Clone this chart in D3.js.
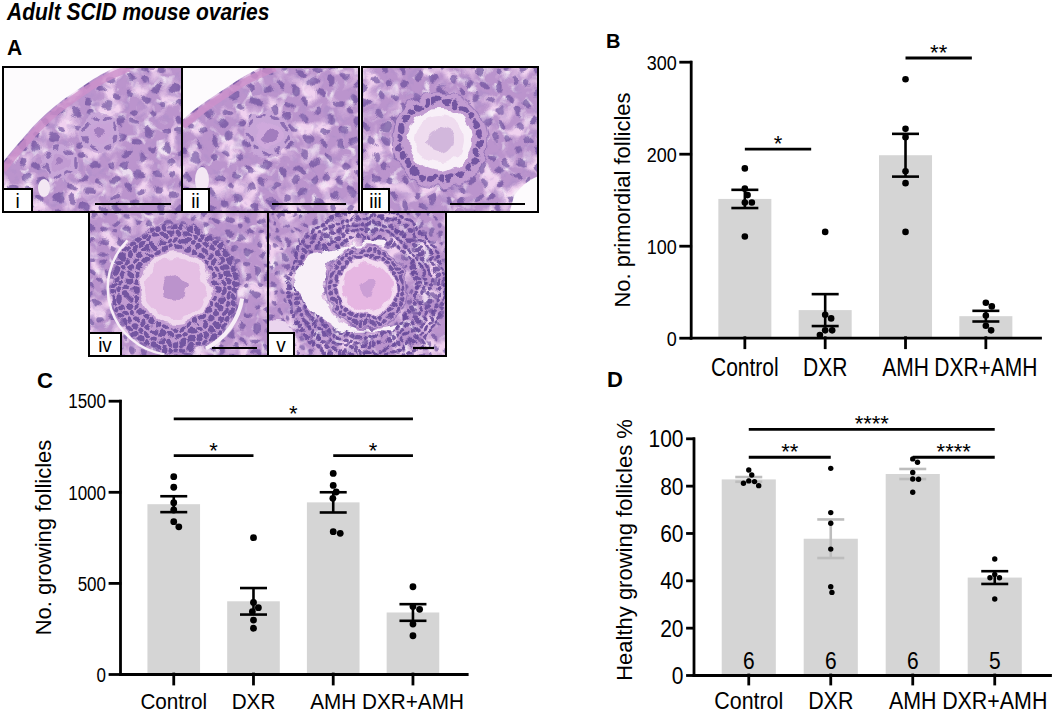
<!DOCTYPE html>
<html>
<head>
<meta charset="utf-8">
<script src="https://cdn.jsdelivr.net/npm/d3@7"></script>
<style>
  body { margin: 0; background: #fff; }
  svg { display: block; font-family: "Liberation Sans", Arial, sans-serif; }
</style>
</head>
<body>
<svg id="fig" width="1052" height="715"></svg>
<script>
// ---------------- data ----------------
var groups = ["Control", "DXR", "AMH", "DXR+AMH"];

// B: number of primordial follicles, one value per ovary
var primordialPts = [
  [184, 162, 155, 147, 147, 110],
  [115, 25, 21, 8, 8, 3],
  [281, 227, 218, 181, 168, 115],
  [38, 34, 24, 13, 8]
];
var primordialTicks = [0, 100, 200, 300];
// [from group, to group, bracket level, label]
var primordialSig = [[0, 1, 205, "*"], [2, 3, 304, "**"]];

// C: number of growing follicles
var growingPts = [
  [1083, 1025, 940, 900, 836, 808],
  [748, 393, 364, 342, 296, 251],
  [1101, 1035, 999, 964, 781, 772],
  [479, 370, 355, 274, 210]
];
var growingTicks = [0, 500, 1000, 1500];
var growingSig = [[0, 3, 1400, "*"], [0, 1, 1198, "*"], [2, 3, 1198, "*"]];

// D: healthy growing follicles %
var healthyPts = [
  [86.6, 84.5, 82, 81.7, 81, 80],
  [87.3, 68.6, 64.1, 53.2, 37.3, 34.9],
  [91.3, 89.9, 85.6, 82.8, 82.7, 77.2],
  [49, 42.5, 41.1, 41.1, 32.1]
];
var healthyTicks = [0, 20, 40, 60, 80, 100];
var healthySig = [[0, 3, 103.8, "****"], [0, 1, 92, "**"], [2, 3, 92, "****"]];
var healthyN = ["6", "6", "6", "5"];

var svg = d3.select("#fig");
var defs = svg.append("defs");

// horizontal text, stretched vertically like the original figure
function hText(g, x, y, str, size, sy, anchor) {
  return g.append("text")
    .attr("transform", "translate(" + x + "," + y + ") scale(1," + sy + ")")
    .attr("text-anchor", anchor || "middle")
    .style("font-size", size + "px")
    .text(str);
}

// simple beeswarm: smallest horizontal shift that avoids overlap
function swarm(vals, y, r) {
  var D = 2 * r + 0.4, placed = [];
  vals.slice().sort(function(a, b) { return b - a; }).forEach(function(v) {
    var py = y(v), cands = [0];
    placed.forEach(function(p) {
      var dy = Math.abs(p.y - py);
      if (dy < D) {
        var s = Math.sqrt(D * D - dy * dy);
        cands.push(p.dx + s, p.dx - s);
      }
    });
    cands.sort(function(a, b) { return Math.abs(a) - Math.abs(b); });
    var dx = cands.find(function(c) {
      return placed.every(function(p) {
        return Math.hypot(p.dx - c, p.y - py) >= D - 0.01;
      });
    });
    placed.push({ v: v, y: py, dx: dx });
  });
  return placed;
}

function drawPanel(cfg) {
  var g = svg.append("g");

  var x = d3.scaleBand().domain(groups)
    .range([cfg.x0, cfg.x1]).paddingInner(0.34).paddingOuter(0.344);
  var y = d3.scaleLinear().domain([0, cfg.max]).range([cfg.yBot, cfg.yTop]);
  var bw = x.bandwidth();

  var stats = cfg.points.map(function(p) {
    return { mean: d3.mean(p), sem: d3.deviation(p) / Math.sqrt(p.length) };
  });

  // bars
  g.selectAll("rect.bar").data(groups).join("rect")
    .attr("class", "bar")
    .attr("x", function(d) { return x(d); })
    .attr("width", bw)
    .attr("y", function(d, i) { return y(stats[i].mean); })
    .attr("height", function(d, i) { return y(0) - y(stats[i].mean); })
    .attr("fill", "#d5d5d5");

  // n inside bars
  if (cfg.nLabels) {
    cfg.nLabels.forEach(function(n, i) {
      hText(g, x(groups[i]) + bw / 2, y(0) - 6, n, 21, 1.1);
    });
  }

  // error bars (mean +/- SEM)
  var eb = g.selectAll("g.err").data(groups).join("g").attr("class", "err")
    .attr("stroke", function(d, i) { return cfg.errColors ? cfg.errColors[i] : "#000"; })
    .attr("stroke-width", 2.6);
  eb.append("line")
    .attr("x1", function(d) { return x(d) + bw / 2; })
    .attr("x2", function(d) { return x(d) + bw / 2; })
    .attr("y1", function(d, i) { return y(stats[i].mean - stats[i].sem); })
    .attr("y2", function(d, i) { return y(stats[i].mean + stats[i].sem); });
  [-1, 1].forEach(function(s) {
    eb.append("line")
      .attr("x1", function(d) { return x(d) + bw / 2 - 13.5; })
      .attr("x2", function(d) { return x(d) + bw / 2 + 13.5; })
      .attr("y1", function(d, i) { return y(stats[i].mean + s * stats[i].sem); })
      .attr("y2", function(d, i) { return y(stats[i].mean + s * stats[i].sem); });
  });

  // individual ovaries
  cfg.points.forEach(function(p, i) {
    var cx = x(groups[i]) + bw / 2;
    g.append("g").selectAll("circle").data(swarm(p, y, cfg.r)).join("circle")
      .attr("cx", function(d) { return cx + d.dx; })
      .attr("cy", function(d) { return d.y; })
      .attr("r", cfg.r)
      .attr("fill", "#000");
  });

  // significance brackets
  cfg.sig.forEach(function(s) {
    var xa = x(groups[s[0]]) + bw / 2;
    var xb = x(groups[s[1]]) + bw / 2 - (cfg.trimR || 0);
    g.append("line")
      .attr("x1", xa).attr("x2", xb)
      .attr("y1", y(s[2])).attr("y2", y(s[2]))
      .attr("stroke", "#000").attr("stroke-width", 2.8);
    hText(g, (xa + xb) / 2, y(s[2]) + 2, s[3], 22, 1);
  });

  // axes
  var ya = g.append("g")
    .attr("transform", "translate(" + cfg.x0 + ",0)")
    .call(d3.axisLeft(y).tickValues(cfg.ticks).tickFormat(d3.format("d"))
      .tickSize(cfg.yTick).tickSizeOuter(0).tickPadding(0));
  ya.selectAll(".tick text")
    .attr("x", null).attr("dy", "0.35em")
    .attr("transform", "translate(" + -(cfg.yTick + cfg.yPad) + ",0) scale(1," + cfg.tickSy + ")")
    .style("font-size", cfg.tickSize + "px");

  var xa = g.append("g")
    .attr("transform", "translate(0," + cfg.yBot + ")")
    .call(d3.axisBottom(x).tickSize(cfg.xTick).tickSizeOuter(0).tickPadding(0));
  xa.selectAll(".tick text")
    .attr("y", null).attr("dy", "0.72em")
    .attr("transform", "translate(0," + (cfg.xTick + cfg.xPad) + ") scale(1," + cfg.labelSy + ")")
    .style("font-size", cfg.labelSize + "px");

  [ya, xa].forEach(function(a) {
    a.attr("font-family", null).attr("font-size", null);
    a.selectAll("path, line").attr("stroke", "#000").attr("stroke-width", 2.8)
      .attr("stroke-linecap", "square");
    a.selectAll("text").attr("fill", "#000");
  });

  // axis title
  g.append("text")
    .attr("transform", "translate(" + cfg.titleX + "," + cfg.titleY + ") rotate(-90)")
    .attr("text-anchor", "middle")
    .style("font-size", "22px")
    .text(cfg.title);

  // panel letter
  g.append("text").attr("x", cfg.letter[1]).attr("y", cfg.letter[2])
    .style("font-size", cfg.letter[3] + "px").style("font-weight", "bold")
    .text(cfg.letter[0]);
}

drawPanel({
  points: primordialPts, ticks: primordialTicks, sig: primordialSig, max: 300,
  x0: 690.7, x1: 1040, yTop: 61.7, yBot: 337.7, r: 3.3, trimR: 14,
  yTick: 10, yPad: 4, tickSize: 18, tickSy: 1.16,
  xTick: 10, xPad: 10, labelSize: 21, labelSy: 1.2,
  title: "No. primordial follicles", titleX: 630, titleY: 200,
  letter: ["B", 606, 48, 20]
});

drawPanel({
  points: growingPts, ticks: growingTicks, sig: growingSig, max: 1500,
  x0: 120, x1: 466.7, yTop: 400.7, yBot: 674, r: 3.4,
  yTick: 10, yPad: 4, tickSize: 17, tickSy: 1.22,
  xTick: 10, xPad: 9, labelSize: 20.7, labelSy: 1.08,
  title: "No. growing follicles", titleX: 50.5, titleY: 537.5,
  letter: ["C", 37, 388, 22]
});

drawPanel({
  points: healthyPts, ticks: healthyTicks, sig: healthySig, max: 100,
  x0: 693.5, x1: 1050, yTop: 438.3, yBot: 675, r: 2.7, nLabels: healthyN,
  errColors: ["#bdbdbd", "#bdbdbd", "#bdbdbd", "#000"],
  yTick: 6, yPad: 4, tickSize: 21, tickSy: 1.14,
  xTick: 9, xPad: 8, labelSize: 21.4, labelSy: 1.08,
  title: "Healthy growing follicles %", titleX: 632, titleY: 550,
  letter: ["D", 607, 387, 22]
});

// ---------------- panel A: H&E micrographs (drawn impression) ----------------
hText(svg, 7, 20, "Adult SCID mouse ovaries", 21, 1.1, "start")
  .style("font-weight", "bold").style("font-style", "italic");
hText(svg, 7, 55, "A", 21, 1.05, "start").style("font-weight", "bold");

var photos = [
  { id: "i",   x: 3,   y: 67,  w: 179, h: 145, bar: [95, 171],  box: 29, rot: 12, cell: 1.1 },
  { id: "ii",  x: 182, y: 67,  w: 177, h: 145, bar: [272, 346], box: 27, rot: 38, cell: 1.1 },
  { id: "iii", x: 362, y: 67,  w: 176, h: 145, bar: [450, 525], box: 27, rot: 64, cell: 1.05 },
  { id: "iv",  x: 89,  y: 212, w: 179, h: 144, bar: [212, 257], box: 32, rot: 22, cell: 0.85 },
  { id: "v",   x: 268, y: 212, w: 178, h: 144, bar: [413, 434], box: 26, rot: 78, cell: 0.66 }
];

// follicle sketches per micrograph
var follicles = {
  i:   [{ cx: 100, cy: 133, oo: 11, zona: 0, nuc: 6, rings: [16], outer: 20, nr: 3.6, flat: true, ooc: "#c9a3d8" },
        { cx: 60, cy: 162, oo: 10, zona: 0, nuc: 5, rings: [15], outer: 18, nr: 3.4, flat: true, ooc: "#c19bd2" }],
  ii:  [{ cx: 268, cy: 135, oo: 13, zona: 0, nuc: 7, rings: [19], outer: 23, nr: 3.6, flat: true, ooc: "#cfa9dc" }],
  iii: [{ cx: 440, cy: 140, oo: 24, zona: 8, nuc: 13, rings: [40], outer: 48, nr: 4.2, ooc: "#efdcef", zc: "#f8f0f8", nucc: "#cdb0d8" }],
  iv:  [{ cx: 175, cy: 288, oo: 30, zona: 6, nuc: 12, rings: [41, 48, 55, 61], outer: 64, nr: 3.3, ooc: "#e5bfe4", zc: "#efd8ee", nucc: "#b48bc8" }],
  v:   [{ cx: 367, cy: 287, oo: 24, zona: 4, nuc: 8, rings: [31, 37], outer: 41, nr: 2.8, ooc: "#e6b6e2", zc: "#f3dcf1", nucc: "#c69ad2" }]
};

// irregular tile of cell nuclei [cx, cy, rx, ry]
var nucleusTile = [[5, 5, 4.4, 3.5], [18, 3, 3.6, 3.1], [30, 9, 4.5, 3.6], [38, 23, 3.5, 3.0],
                   [9, 19, 4.0, 3.3], [23, 21, 4.4, 3.4], [15, 33, 4.1, 3.2], [31, 33, 3.8, 3.4]];

// noise textures
function noiseFilter(id, seed, freq, rgb, row) {
  var f = defs.append("filter").attr("id", id)
    .attr("x", 0).attr("y", 0).attr("width", "100%").attr("height", "100%");
  f.append("feTurbulence").attr("type", "fractalNoise")
    .attr("baseFrequency", freq).attr("numOctaves", 2).attr("seed", seed);
  f.append("feColorMatrix").attr("type", "matrix")
    .attr("values", "0 0 0 0 " + rgb[0] + " 0 0 0 0 " + rgb[1] + " 0 0 0 0 " + rgb[2] + " " + row);
}
noiseFilter("darkMottle", 3, 0.13, [0.38, 0.26, 0.58], "4.5 0 0 0 -2.4");
noiseFilter("pinkMottle", 7, 0.05, [0.87, 0.64, 0.86], "0 4.5 0 0 -2.2");
noiseFilter("paleMottle", 11, 0.09, [0.93, 0.86, 0.94], "0 0 4.5 0 -2.5");

var warp = defs.append("filter").attr("id", "warp")
  .attr("x", "-5%").attr("y", "-5%").attr("width", "110%").attr("height", "110%");
warp.append("feTurbulence").attr("type", "fractalNoise")
  .attr("baseFrequency", 0.07).attr("numOctaves", 2).attr("seed", 5).attr("result", "t");
warp.append("feDisplacementMap").attr("in", "SourceGraphic").attr("in2", "t")
  .attr("scale", 12).attr("xChannelSelector", "R").attr("yChannelSelector", "G");

photos.forEach(function(p, k) {
  var c = p.cell;
  var pat = defs.append("pattern").attr("id", "nuclei" + k)
    .attr("patternUnits", "userSpaceOnUse").attr("width", 42 * c).attr("height", 40 * c)
    .attr("patternTransform", "rotate(" + p.rot + ")");
  nucleusTile.forEach(function(e) {
    pat.append("ellipse").attr("cx", e[0] * c).attr("cy", e[1] * c)
      .attr("rx", e[2] * c).attr("ry", e[3] * c)
      .attr("fill", "#684b9b").attr("opacity", 0.68);
  });
  defs.append("clipPath").attr("id", "clip" + k)
    .append("rect").attr("x", p.x).attr("y", p.y).attr("width", p.w).attr("height", p.h);
});

function ringNuclei(g, f, R, nr, flat) {
  var n = Math.floor(2 * Math.PI * R / (flat ? 12 : 2.3 * nr));
  g.append("g").selectAll("ellipse").data(d3.range(n)).join("ellipse")
    .attr("transform", function(k) {
      var a = 360 * k / n + R * 7;
      return "rotate(" + a + "," + f.cx + "," + f.cy + ") translate(" + (f.cx + R) + "," + f.cy + ")";
    })
    .attr("rx", flat ? 1.8 : nr * 0.85).attr("ry", flat ? 4.5 : nr)
    .attr("fill", "#654899").attr("opacity", flat ? 0.6 : 0.85);
}

function drawFollicle(g, f) {
  g.append("circle").attr("cx", f.cx).attr("cy", f.cy).attr("r", f.outer)
    .attr("fill", f.flat ? "#c8a6d8" : "#c29cd2");
  if (!f.flat) {
    g.append("circle").attr("cx", f.cx).attr("cy", f.cy).attr("r", f.outer)
      .attr("fill", "none").attr("stroke", "#8061ab").attr("stroke-width", 1.2).attr("opacity", 0.6);
  }
  f.rings.forEach(function(R) { ringNuclei(g, f, R, f.nr, f.flat); });
  if (f.zona) {
    g.append("circle").attr("cx", f.cx).attr("cy", f.cy).attr("r", f.oo + f.zona)
      .attr("fill", f.zc);
  }
  g.append("circle").attr("cx", f.cx).attr("cy", f.cy).attr("r", f.oo).attr("fill", f.ooc);
  g.append("circle").attr("cx", f.cx).attr("cy", f.cy).attr("r", f.nuc)
    .attr("fill", f.nucc || "#9a74b8").attr("opacity", 0.85);
}

photos.forEach(function(p, k) {
  var outer = svg.append("g").attr("clip-path", "url(#clip" + k + ")");
  outer.append("rect").attr("x", p.x).attr("y", p.y).attr("width", p.w).attr("height", p.h)
    .attr("fill", "#bb94cd");
  var g = outer.append("g").attr("filter", "url(#warp)");
  g.append("rect").attr("x", p.x - 8).attr("y", p.y - 8).attr("width", p.w + 16).attr("height", p.h + 16)
    .attr("fill", "#bb94cd");
  g.append("rect").attr("x", p.x).attr("y", p.y).attr("width", p.w).attr("height", p.h)
    .attr("filter", "url(#pinkMottle)");
  g.append("rect").attr("x", p.x).attr("y", p.y).attr("width", p.w).attr("height", p.h)
    .attr("filter", "url(#paleMottle)").attr("opacity", 0.8);
  g.append("rect").attr("x", p.x - 8).attr("y", p.y - 8).attr("width", p.w + 16).attr("height", p.h + 16)
    .attr("fill", "url(#nuclei" + k + ")");
  g.append("rect").attr("x", p.x).attr("y", p.y).attr("width", p.w).attr("height", p.h)
    .attr("filter", "url(#darkMottle)").attr("opacity", 0.35);

  // antrum of the antral follicle sits under its cumulus
  if (p.id === "v") {
    [78, 71, 64, 57, 50].forEach(function(R) {
      ringNuclei(g, { cx: 367, cy: 287 }, R, 2.6, false);
    });
    g.append("path")
      .attr("d", "M293,276 L310,254 L348,246 L371,239 L385,240 L387,247 L378,246 " +
                 "A43,43 0 1 0 374.5,329.3 L397,323 L393,331 L347,332 C325,325 300,305 293,276 Z")
      .attr("fill", "#f8f0f8");
    g.append("circle").attr("cx", 276).attr("cy", 340).attr("r", 20).attr("fill", "#ead5ee");
  }

  (follicles[p.id] || []).forEach(function(f) { drawFollicle(g, f); });

  // empty slide areas and cracks (outside the warp)
  if (p.id === "i") {
    outer.append("path").attr("d", "M0,60 L126,60 C112,70 100,74 86,84 C62,100 48,110 30,130 C20,142 10,152 0,166 Z")
      .attr("fill", "#fdfbfd");
    outer.append("path").attr("d", "M126,64 C112,70 100,74 86,84 C62,100 48,110 30,130 C20,142 10,152 0,166")
      .attr("fill", "none").attr("stroke", "#cd90cb").attr("stroke-width", 7).attr("opacity", 0.8)
      .attr("transform", "translate(3,4)");
    outer.append("ellipse").attr("cx", 44).attr("cy", 188).attr("rx", 6).attr("ry", 9).attr("fill", "#f3e7f3");
  }
  if (p.id === "ii") {
    outer.append("path").attr("d", "M180,60 L272,60 C258,70 246,74 232,84 C214,96 200,104 180,122 Z")
      .attr("fill", "#fdfbfd");
    outer.append("path").attr("d", "M272,64 C258,70 246,74 232,84 C214,96 200,104 180,122")
      .attr("fill", "none").attr("stroke", "#cd90cb").attr("stroke-width", 7).attr("opacity", 0.8)
      .attr("transform", "translate(3,4)");
    outer.append("ellipse").attr("cx", 202).attr("cy", 180).attr("rx", 7).attr("ry", 13)
      .attr("fill", "#f3e7f3");
  }
  if (p.id === "iii") {
    outer.append("path").attr("d", "M514,196 C521,186 530,178 545,174 L545,218 L508,218 Z")
      .attr("fill", "#fdfbfd");
  }
  if (p.id === "iv") {
    outer.append("path").attr("d", d3.arc()({ innerRadius: 66, outerRadius: 68.5,
        startAngle: Math.PI * 1.05, endAngle: Math.PI * 1.75 }))
      .attr("transform", "translate(175,288)").attr("fill", "#f7eef7");
    outer.append("path").attr("d", d3.arc()({ innerRadius: 66, outerRadius: 70,
        startAngle: Math.PI * 0.55, endAngle: Math.PI * 0.85 }))
      .attr("transform", "translate(175,288)").attr("fill", "#f7eef7");
  }

  // frame, label box, scale bar
  svg.append("rect").attr("x", p.x).attr("y", p.y).attr("width", p.w).attr("height", p.h)
    .attr("fill", "none").attr("stroke", "#000").attr("stroke-width", 2);
  svg.append("rect").attr("x", p.x).attr("y", p.y + p.h - 23).attr("width", p.box).attr("height", 23)
    .attr("fill", "#fff").attr("stroke", "#000").attr("stroke-width", 2);
  hText(svg, p.x + p.box / 2, p.y + p.h - 4, p.id, 19, 1.1);
  svg.append("line").attr("x1", p.bar[0]).attr("x2", p.bar[1])
    .attr("y1", p.y + p.h - 8).attr("y2", p.y + p.h - 8)
    .attr("stroke", "#000").attr("stroke-width", 2.2);
});
</script>
</body>
</html>
